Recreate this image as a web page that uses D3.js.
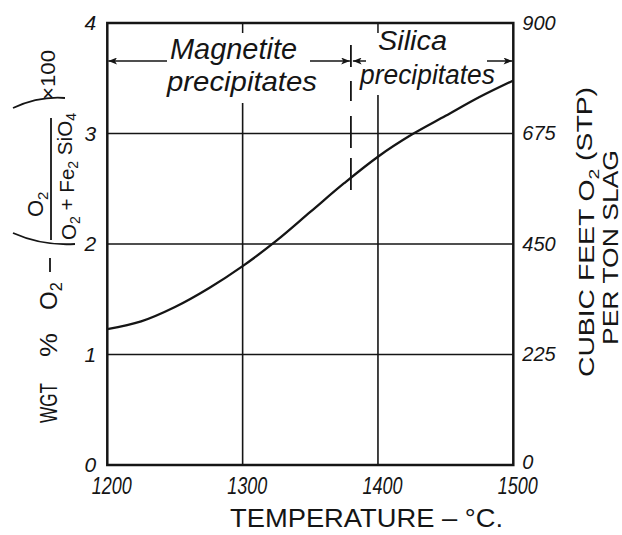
<!DOCTYPE html>
<html>
<head>
<meta charset="utf-8">
<script src="https://cdn.jsdelivr.net/npm/d3@7"></script>
<style>
  body { margin: 0; background: #fff; }
  svg { display: block; }
  text { fill: #151515; font-family: "Liberation Sans", "DejaVu Sans", sans-serif; }
  .it { font-style: italic; }
</style>
</head>
<body>
<svg id="chart" width="622" height="535"></svg>
<script>
// Oxygen content of slag (wt %) versus temperature
const temperatures = [1200, 1225, 1250, 1275, 1300, 1325, 1350, 1375, 1400, 1425, 1450, 1475, 1500];
const oxygenWgt    = [1.23, 1.30, 1.43, 1.60, 1.80, 2.03, 2.29, 2.55, 2.79, 2.99, 3.16, 3.33, 3.48];

const xTicks = [1200, 1300, 1400, 1500];
const leftTicks = [0, 1, 2, 3, 4];
const rightTicks = [0, 225, 450, 675, 900];
const hGrid = [1, 2, 3];
const vGrid = [1300, 1400];
const boundaryTemp = 1380;   // magnetite / silica precipitation boundary

const svg = d3.select("#chart");
const ink = "#151515";

const x = d3.scaleLinear().domain([1200, 1500]).range([107.3, 513.3]);
const y = d3.scaleLinear().domain([0, 4]).range([465, 23]);
const yRight = d3.scaleLinear().domain([0, 900]).range([465, 23]);

// arrowheads
const defs = svg.append("defs");
defs.append("marker")
  .attr("id", "head")
  .attr("viewBox", "0 0 10 8")
  .attr("refX", 10).attr("refY", 4)
  .attr("markerWidth", 9).attr("markerHeight", 7)
  .attr("markerUnits", "userSpaceOnUse")
  .attr("orient", "auto-start-reverse")
  .append("path").attr("d", "M0,0 L10,4 L0,8 L2.5,4 z").attr("fill", ink);

// horizontal grid
svg.append("g").selectAll("line").data(hGrid).join("line")
  .attr("x1", x(1200)).attr("x2", x(1500))
  .attr("y1", d => y(d)).attr("y2", d => y(d))
  .attr("stroke", ink).attr("stroke-width", 1.5);

// vertical grid: short stub at the top, then the line below the annotations
const vStart = { 1300: 103, 1400: 95 };
const vg = svg.append("g");
vg.selectAll("line.stub").data(vGrid).join("line").attr("class", "stub")
  .attr("x1", d => x(d)).attr("x2", d => x(d))
  .attr("y1", y(4)).attr("y2", y(4) + 10)
  .attr("stroke", ink).attr("stroke-width", 1.5);
vg.selectAll("line.main").data(vGrid).join("line").attr("class", "main")
  .attr("x1", d => x(d)).attr("x2", d => x(d))
  .attr("y1", d => vStart[d]).attr("y2", y(0))
  .attr("stroke", ink).attr("stroke-width", 1.6);

// frame
svg.append("rect")
  .attr("x", x(1200)).attr("y", y(4))
  .attr("width", x(1500) - x(1200)).attr("height", y(0) - y(4))
  .attr("fill", "none").attr("stroke", ink).attr("stroke-width", 2.5);

// boundary (dashed)
svg.append("line")
  .attr("x1", x(boundaryTemp)).attr("x2", x(boundaryTemp))
  .attr("y1", 45).attr("y2", 192)
  .attr("stroke", ink).attr("stroke-width", 1.8)
  .attr("stroke-dasharray", "22,14,20,15,32,10,32");

// region arrows
const arrowY = 61;
const arrows = [
  [167, x(1200) + 1],
  [310, x(boundaryTemp) - 1],
  [366, x(boundaryTemp) + 2],
  [487, x(1500) - 1]
];
svg.append("g").selectAll("line").data(arrows).join("line")
  .attr("x1", d => d[0]).attr("x2", d => d[1])
  .attr("y1", arrowY).attr("y2", arrowY)
  .attr("stroke", ink).attr("stroke-width", 1.5)
  .attr("marker-end", "url(#head)");

// region labels
const regionLabels = [
  { t: "Magnetite", x: 170, y: 59, w: 127, s: 29 },
  { t: "precipitates", x: 167, y: 91, w: 150, s: 28 },
  { t: "Silica", x: 378, y: 50, w: 69, s: 27 },
  { t: "precipitates", x: 360, y: 84, w: 135, s: 27 }
];
svg.append("g").selectAll("text").data(regionLabels).join("text")
  .attr("class", "it")
  .attr("x", d => d.x).attr("y", d => d.y)
  .attr("font-size", d => d.s)
  .attr("textLength", d => d.w).attr("lengthAdjust", "spacingAndGlyphs")
  .text(d => d.t);

// curve
const line = d3.line()
  .x((d, i) => x(temperatures[i]))
  .y(d => y(d))
  .curve(d3.curveCatmullRom.alpha(0.5));
svg.append("path")
  .datum(oxygenWgt)
  .attr("d", line)
  .attr("fill", "none").attr("stroke", ink).attr("stroke-width", 2.3);

// axes
const bottom = svg.append("g")
  .attr("transform", `translate(0,${y(0)})`)
  .call(d3.axisBottom(x).tickValues(xTicks).tickSize(0).tickPadding(12).tickFormat(d3.format("d")));
bottom.select(".domain").remove();
bottom.selectAll("text")
  .attr("class", "it")
  .attr("font-size", 24).attr("dx", 4)
  .attr("textLength", 40).attr("lengthAdjust", "spacingAndGlyphs")
  .attr("font-family", null).attr("fill", null);

const left = svg.append("g")
  .attr("transform", `translate(${x(1200)},0)`)
  .call(d3.axisLeft(y).tickValues(leftTicks).tickSize(0).tickPadding(11).tickFormat(d3.format("d")));
left.select(".domain").remove();
left.selectAll("text").attr("class", "it").attr("font-size", 21).attr("font-family", null).attr("fill", null);

const right = svg.append("g")
  .attr("transform", `translate(${x(1500)},0)`)
  .call(d3.axisRight(yRight).tickValues(rightTicks).tickSize(0).tickPadding(9).tickFormat(d3.format("d")));
right.select(".domain").remove();
right.selectAll("text").attr("class", "it").attr("font-size", 20).attr("font-family", null).attr("fill", null)
  .attr("dy", d => d === 0 ? "0.15em" : "0.32em");

// helper: text with subscripted parts; parts = [[str, isSub], ...]
function richText(g, parts, attrs) {
  const t = g.append("text");
  Object.entries(attrs).forEach(([k, v]) => t.attr(k, v));
  let shifted = false;
  parts.forEach(([s, sub]) => {
    const ts = t.append("tspan").text(s);
    if (sub) {
      ts.attr("font-size", "0.68em");
      if (!shifted) { ts.attr("dy", "0.3em"); shifted = true; }
    } else if (shifted) {
      ts.attr("dy", "-0.3em"); shifted = false;
    }
  });
  return t;
}

// x-axis title
svg.append("text")
  .attr("x", 230).attr("y", 527)
  .attr("font-size", 26)
  .attr("textLength", 273).attr("lengthAdjust", "spacingAndGlyphs")
  .text("TEMPERATURE – °C.");

// left axis title: WGT % O2 − (O2 / (O2 + Fe2SiO4)) × 100
const lt = svg.append("g").attr("transform", "translate(57,423) rotate(-90)");
lt.append("text").attr("x", 0).attr("y", 0).attr("font-size", 24)
  .attr("textLength", 40).attr("lengthAdjust", "spacingAndGlyphs").text("WGT");
lt.append("text").attr("x", 66).attr("y", 0).attr("font-size", 24)
  .attr("textLength", 24).attr("lengthAdjust", "spacingAndGlyphs").text("%");
richText(lt, [["O", false], ["2", true]], { x: 113, y: 0, "font-size": 24 });
lt.append("line").attr("x1", 151).attr("x2", 165).attr("y1", -7).attr("y2", -7)
  .attr("stroke", ink).attr("stroke-width", 1.8);
lt.append("path").attr("d", "M190,-44 Q177,-15 179,18")
  .attr("fill", "none").attr("stroke", ink).attr("stroke-width", 1.8);
lt.append("line").attr("x1", 183).attr("x2", 305).attr("y1", -6).attr("y2", -6)
  .attr("stroke", ink).attr("stroke-width", 1.8);
richText(lt, [["O", false], ["2", true]], { x: 206, y: -14, "font-size": 22 });
richText(lt, [["O", false], ["2", true], [" + Fe", false], ["2", true], [" SiO", false], ["4", true]],
  { x: 183, y: 19, "font-size": 21, textLength: 127, lengthAdjust: "spacingAndGlyphs" });
lt.append("path").attr("d", "M315,-44 Q327,-18 325,8")
  .attr("fill", "none").attr("stroke", ink).attr("stroke-width", 1.8);
lt.append("text").attr("x", 323).attr("y", -2).attr("font-size", 20)
  .attr("textLength", 50).attr("lengthAdjust", "spacingAndGlyphs").text("×100");

// right axis title
const rt = svg.append("g").attr("transform", "translate(594,377) rotate(-90)");
richText(rt, [["CUBIC  FEET  O", false], ["2", true], ["  (STP)", false]],
  { x: 0, y: 0, "font-size": 22, textLength: 290, lengthAdjust: "spacingAndGlyphs" });
const rt2 = svg.append("g").attr("transform", "translate(618,345) rotate(-90)");
rt2.append("text").attr("x", 0).attr("y", 0).attr("font-size", 22)
  .attr("textLength", 195).attr("lengthAdjust", "spacingAndGlyphs").text("PER  TON  SLAG");
</script>
</body>
</html>
